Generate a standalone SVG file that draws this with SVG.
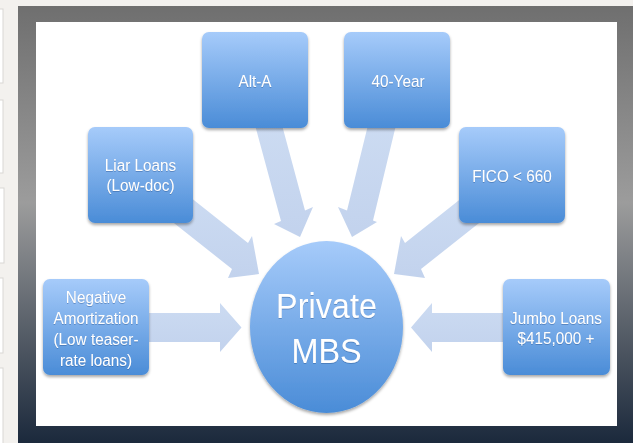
<svg xmlns="http://www.w3.org/2000/svg" width="633" height="443" viewBox="0 0 633 443">
  <defs>
    <linearGradient id="frame" x1="0" y1="0" x2="0" y2="1">
      <stop offset="0" stop-color="#6f6f6f"/>
      <stop offset="0.45" stop-color="#9c9c9c"/>
      <stop offset="0.72" stop-color="#5c636c"/>
      <stop offset="1" stop-color="#1b293c"/>
    </linearGradient>
    <linearGradient id="box" x1="0" y1="0" x2="0" y2="1">
      <stop offset="0" stop-color="#a6cbfa"/>
      <stop offset="1" stop-color="#4a8cd7"/>
    </linearGradient>
    <linearGradient id="arrowFill" x1="0" y1="0" x2="0" y2="1">
      <stop offset="0" stop-color="#c9d9f1"/>
      <stop offset="1" stop-color="#bfd0ec"/>
    </linearGradient>
    <filter id="shadow" x="-20%" y="-20%" width="140%" height="140%">
      <feDropShadow dx="0" dy="2" stdDeviation="1.6" flood-color="#000" flood-opacity="0.35"/>
    </filter>
    <filter id="tshadow" x="-10%" y="-30%" width="120%" height="160%">
      <feDropShadow dx="0" dy="0.8" stdDeviation="0.6" flood-color="#1d4f8a" flood-opacity="0.5"/>
    </filter>
  </defs>
  <style>
    .node { fill: url(#box); filter: url(#shadow); }
    .arrow { fill: url(#arrowFill); opacity: 0.95; }
    .t { font-family: "Liberation Sans", Arial, sans-serif; font-size: 17px; fill: #ffffff; text-anchor: middle; filter: url(#tshadow); }
    .big { font-size: 36px; }
    .thumb { fill: #ffffff; stroke: #d9d7d4; stroke-width: 1; }
  </style>

  <!-- background -->
  <rect x="0" y="0" width="633" height="443" fill="#f3f1ee"/>
  <g id="thumbnails">
    <rect class="thumb" x="-10" y="9" width="13" height="74"/>
    <rect class="thumb" x="-10" y="100" width="13" height="73"/>
    <rect class="thumb" x="-10" y="188" width="14" height="75"/>
    <rect class="thumb" x="-10" y="278" width="13" height="75"/>
    <rect class="thumb" x="-10" y="368" width="13" height="80"/>
  </g>
  <rect x="18" y="6" width="615" height="437" fill="url(#frame)"/>
  <rect x="36" y="22" width="581" height="404" fill="#ffffff"/>

  <!-- connectors -->
  <g id="connectors">
    <polygon class="arrow" points="140,313 220,313 220,303 241.5,327.5 220,352 220,342 140,342"/>
    <polygon class="arrow" points="512,313 432,313 432,303 411,327.5 432,352 432,342 512,342"/>
    <polygon class="arrow" points="190,197 248,243 252,236 259,274 228,278 232,269 172,221.5"/>
    <polygon class="arrow" points="463,197 405,243 401,236 394,274 425,278 421,269 481,221.5"/>
    <polygon class="arrow" points="255,125 281,221 274,224 300,237 313,207 305,210.5 282,125"/>
    <polygon class="arrow" points="368,125 347,210.5 338,207 352,237 377,222 373,220.5 396,125"/>
  </g>

  <!-- nodes -->
  <g id="node-alt-a">
    <rect class="node" x="202" y="32" width="106" height="96" rx="7"/>
    <text class="t" transform="translate(255,87) scale(0.9,1)">Alt-A</text>
  </g>
  <g id="node-40-year">
    <rect class="node" x="344" y="32" width="106" height="96" rx="7"/>
    <text class="t" transform="translate(398,87) scale(0.9,1)">40-Year</text>
  </g>
  <g id="node-liar-loans">
    <rect class="node" x="88" y="127" width="105" height="96" rx="7"/>
    <text class="t" transform="translate(140.5,171) scale(0.9,1)">Liar Loans</text>
    <text class="t" transform="translate(140.5,191) scale(0.9,1)">(Low-doc)</text>
  </g>
  <g id="node-fico">
    <rect class="node" x="459" y="127" width="106" height="96" rx="7"/>
    <text class="t" transform="translate(512,182) scale(0.9,1)">FICO &lt; 660</text>
  </g>
  <g id="node-negative-amortization">
    <rect class="node" x="43" y="279" width="106" height="96" rx="7"/>
    <text class="t" transform="translate(96,303) scale(0.9,1)">Negative</text>
    <text class="t" transform="translate(96,324) scale(0.9,1)">Amortization</text>
    <text class="t" transform="translate(96,345) scale(0.9,1)">(Low teaser-</text>
    <text class="t" transform="translate(96,366) scale(0.9,1)">rate loans)</text>
  </g>
  <g id="node-jumbo-loans">
    <rect class="node" x="503" y="279" width="107" height="96" rx="7"/>
    <text class="t" transform="translate(556,324) scale(0.9,1)">Jumbo Loans</text>
    <text class="t" transform="translate(556,344) scale(0.9,1)">$415,000 +</text>
  </g>
  <g id="node-private-mbs">
    <ellipse class="node" cx="326.5" cy="327" rx="76.5" ry="86"/>
    <text class="t big" transform="translate(326.5,318) scale(0.9,1)">Private</text>
    <text class="t big" transform="translate(326.5,363) scale(0.9,1)">MBS</text>
  </g>
</svg>
